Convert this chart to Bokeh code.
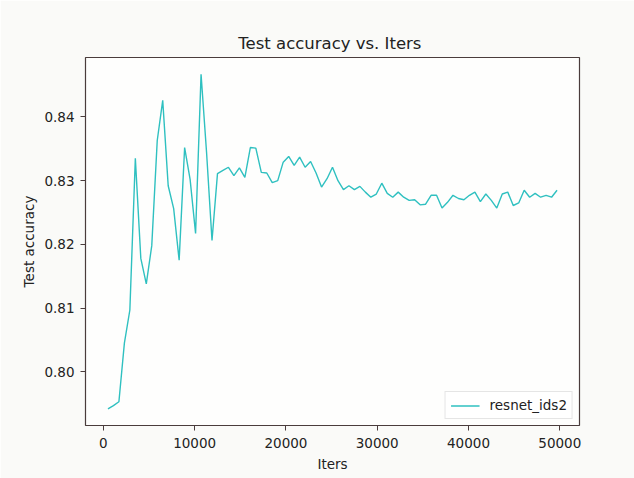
from bokeh.plotting import figure
from bokeh.models import Range1d, FixedTicker, NumeralTickFormatter, Legend, LegendItem
from bokeh.embed import file_html
from bokeh.resources import INLINE

iters = [500, 1100, 1700, 2300, 2900, 3500, 4100, 4700, 5300, 5900,
         6500, 7100, 7700, 8300, 8900, 9500, 10100, 10700, 11300, 11900,
         12500, 13100, 13700, 14300, 14900, 15500, 16100, 16700, 17300, 17900,
         18500, 19100, 19700, 20300, 20900, 21500, 22100, 22700, 23300, 23900,
         24500, 25100, 25700, 26300, 26900, 27500, 28100, 28700, 29300, 29900,
         30500, 31100, 31700, 32300, 32900, 33500, 34100, 34700, 35300, 35900,
         36500, 37100, 37700, 38300, 38900, 39500, 40100, 40700, 41300, 41900,
         42500, 43100, 43700, 44300, 44900, 45500, 46100, 46700, 47300, 47900,
         48500, 49100, 49700]

test_accuracy = [0.7942, 0.7947, 0.7953, 0.8045, 0.8097, 0.8335, 0.8178, 0.8138, 0.8198, 0.8363,
                 0.8426, 0.8292, 0.8256, 0.8175, 0.8352, 0.8302, 0.8217, 0.8467, 0.8345, 0.8206,
                 0.8311, 0.8316, 0.8321, 0.8308, 0.8320, 0.8305, 0.8352, 0.8351, 0.8313, 0.8312,
                 0.8297, 0.8300, 0.8329, 0.8338, 0.8324, 0.8337, 0.8321, 0.8330, 0.8312, 0.8290,
                 0.8303, 0.8321, 0.8300, 0.8286, 0.8292, 0.8286, 0.8291, 0.8282, 0.8274, 0.8279,
                 0.8296, 0.8280, 0.8274, 0.8282, 0.8274, 0.8269, 0.8270, 0.8262, 0.8263, 0.8277,
                 0.8277, 0.8257, 0.8266, 0.8277, 0.8272, 0.8270, 0.8277, 0.8282, 0.8267, 0.8279,
                 0.8269, 0.8257, 0.8279, 0.8282, 0.8261, 0.8265, 0.8285, 0.8274, 0.8280, 0.8274,
                 0.8277, 0.8274, 0.8285]

x_ticks = [0, 10000, 20000, 30000, 40000, 50000]
y_ticks = [0.80, 0.81, 0.82, 0.83, 0.84]
series_name = "resnet_ids2"

FONT = "DejaVu Sans"
TXT = "#222222"
SPINE = "#4a3c3c"

p = figure(width=634, height=478, output_backend="svg", toolbar_location=None,
           x_range=Range1d(-1960, 52160), y_range=Range1d(0.791575, 0.849325),
           min_border_left=85, min_border_right=55, min_border_top=57, min_border_bottom=53)

p.title.text = "Test accuracy  vs. Iters"
p.title.align = "center"
p.title.text_font = FONT
p.title.text_font_size = "16.5px"
p.title.text_font_style = "normal"
p.title.text_color = TXT
p.title.standoff = 9

p.background_fill_color = "#fefefd"
p.border_fill_color = "#fafaf8"
p.outline_line_color = SPINE
p.outline_line_width = 1.2
p.xgrid.visible = False
p.ygrid.visible = False

r = p.line(iters, test_accuracy, line_color="#2fc0c0", line_width=1.4)

for ax in (p.xaxis[0], p.yaxis[0]):
    ax.axis_line_color = None
    ax.major_tick_line_color = SPINE
    ax.major_tick_out = 5
    ax.major_tick_in = 0
    ax.minor_tick_line_color = None
    ax.major_label_text_font = FONT
    ax.major_label_text_font_size = "13.5px"
    ax.major_label_text_color = TXT
    ax.axis_label_text_font = FONT
    ax.axis_label_text_font_size = "13.5px"
    ax.axis_label_text_font_style = "normal"
    ax.axis_label_text_color = TXT

p.xaxis[0].major_label_standoff = 7
p.xaxis[0].axis_label_standoff = 5
p.yaxis[0].major_label_standoff = 6
p.yaxis[0].axis_label_standoff = 4

p.xaxis[0].ticker = FixedTicker(ticks=x_ticks)
p.yaxis[0].ticker = FixedTicker(ticks=y_ticks)
p.yaxis[0].formatter = NumeralTickFormatter(format="0.00")
p.xaxis[0].axis_label = "Iters"
p.yaxis[0].axis_label = "Test accuracy"

legend = Legend(items=[LegendItem(label=series_name, renderers=[r])],
                location="bottom_right")
legend.margin = 6
legend.padding = 5
legend.spacing = 0
legend.glyph_width = 29
legend.glyph_height = 15
legend.label_standoff = 10
legend.label_text_font = FONT
legend.label_text_font_size = "13.5px"
legend.label_text_color = TXT
legend.border_line_color = "#cccccc"
legend.border_line_width = 1
legend.background_fill_color = "#ffffff"
legend.background_fill_alpha = 0.85
p.add_layout(legend)

open("out.html", "w").write(file_html(p, INLINE))
